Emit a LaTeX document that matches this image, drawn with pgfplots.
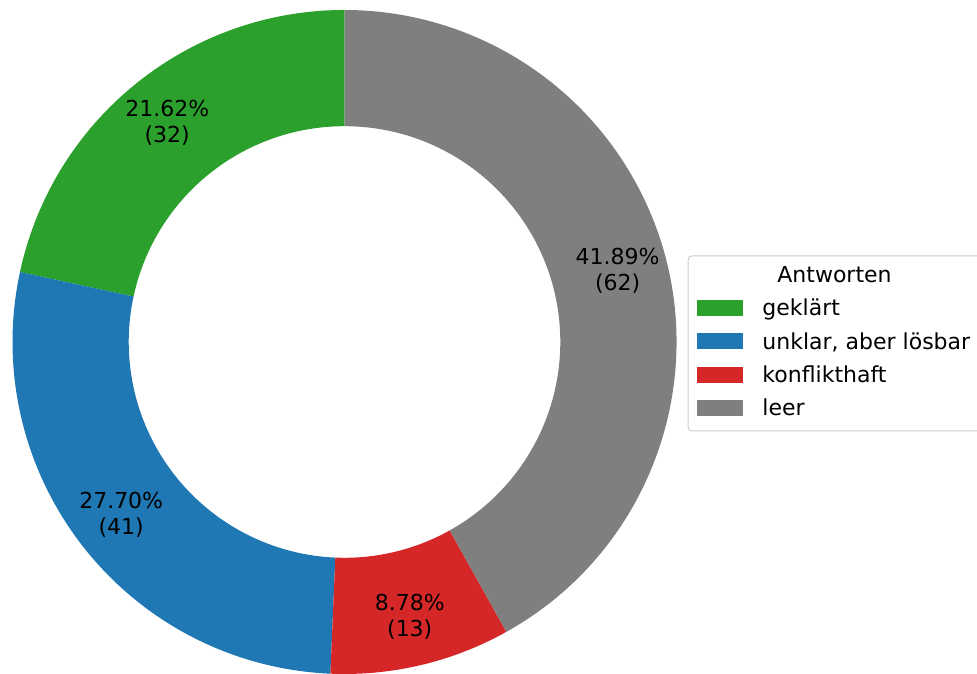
\documentclass[border=0pt]{standalone}
\usepackage{pgfplots}
\usepackage{pgfplotstable}
\pgfplotsset{compat=1.18}
\usepackage{fontspec}
\setmainfont{DejaVu Sans}
\definecolor{cgreen}{HTML}{2CA02C}
\definecolor{cblue}{HTML}{1F77B4}
\definecolor{cred}{HTML}{D62728}
\definecolor{cgray}{HTML}{7F7F7F}
\pgfplotstableread{
slice count
0 32
1 41
2 13
3 62
}\donutdata
\def\Ro{166pt}\def\Ri{107.9pt}\def\Rl{141.1pt}
\newcommand\donutwedge[3]{%
  \fill[#3] ([shift={(#1:\Ro)}]axis cs:0,0) arc[start angle=#1,end angle=#2,radius=\Ro]
    -- ([shift={(#2:\Ri)}]axis cs:0,0) arc[start angle=#2,end angle=#1,radius=\Ri] -- cycle;}
\newcommand\donutlabel[3]{%
  \node[align=center,inner sep=0pt,text=black] at ([shift={({(#1+#2)/2}:\Rl)}]axis cs:0,0)
    {\pgfmathparse{100*(#3/\tot)}\pgfmathprintnumber[fixed,fixed zerofill,precision=2,assume math mode=true]{\pgfmathresult}\%\\(#3)};}
\begin{document}
\begin{tikzpicture}[font=\fontsize{11}{13}\selectfont]
\useasboundingbox (0,0) rectangle (488.5pt,336.5pt);
\clip (0,0) rectangle (488.5pt,336.5pt);
\pgfplotstablegetelem{0}{count}\of\donutdata\let\cA\pgfplotsretval
\pgfplotstablegetelem{1}{count}\of\donutdata\let\cB\pgfplotsretval
\pgfplotstablegetelem{2}{count}\of\donutdata\let\cC\pgfplotsretval
\pgfplotstablegetelem{3}{count}\of\donutdata\let\cD\pgfplotsretval
\pgfmathsetmacro\tot{\cA+\cB+\cC+\cD}
\pgfmathsetmacro\sA{90}
\pgfmathsetmacro\sB{\sA+360*(\cA/\tot)}
\pgfmathsetmacro\sC{\sB+360*(\cB/\tot)}
\pgfmathsetmacro\sD{\sC+360*(\cC/\tot)}
\pgfmathsetmacro\sE{\sD+360*(\cD/\tot)}
\begin{axis}[at={(172.25pt,165.5pt)}, anchor=center, x=166pt, y=166pt,
  xmin=-1, xmax=1, ymin=-1, ymax=1, hide axis, clip=false]
\donutwedge{\sA}{\sB}{cgreen}
\donutwedge{\sB}{\sC}{cblue}
\donutwedge{\sC}{\sD}{cred}
\donutwedge{\sD}{\sE}{cgray}
\donutlabel{\sA}{\sB}{\cA}
\donutlabel{\sB}{\sC}{\cB}
\donutlabel{\sC}{\sD}{\cC}
\donutlabel{\sD}{\sE}{\cD}
\end{axis}
% legend
\draw[draw=black!20, line width=0.5pt, rounded corners=2pt, fill=white] (344pt,121pt) rectangle (500pt,208.5pt);
\node[anchor=base, inner sep=0pt] at (417.25pt,195pt) {Antworten};
\fill[cgreen] (348.5pt,178.5pt) rectangle (371.5pt,186.5pt);
\fill[cblue]  (348.5pt,161.85pt) rectangle (371.5pt,169.85pt);
\fill[cred]   (348.5pt,145.2pt) rectangle (371.5pt,153.2pt);
\fill[cgray]  (348.5pt,128.5pt) rectangle (371.5pt,136.5pt);
\node[anchor=base west, inner sep=0pt] at (381pt,178.5pt) {geklärt};
\node[anchor=base west, inner sep=0pt] at (381pt,161.85pt) {unklar, aber lösbar};
\node[anchor=base west, inner sep=0pt] at (381pt,145.2pt) {konflikthaft};
\node[anchor=base west, inner sep=0pt] at (381pt,128.5pt) {leer};
\end{tikzpicture}
\end{document}
